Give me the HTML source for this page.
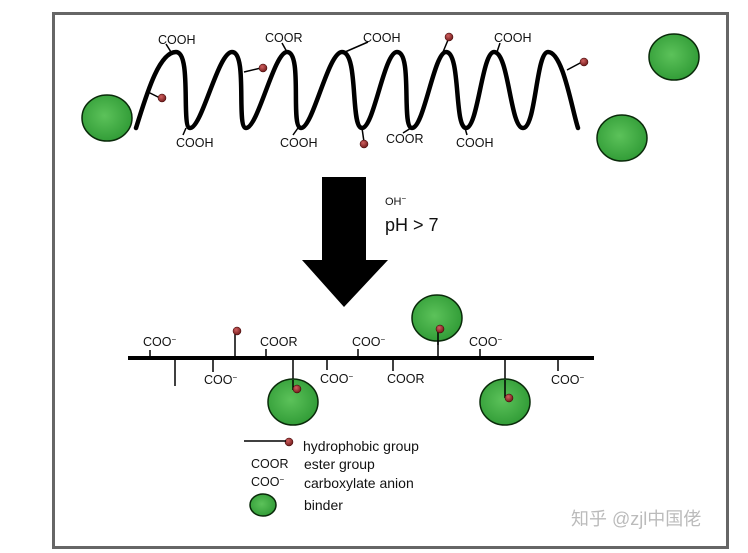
<!DOCTYPE html>
<html><head><meta charset="utf-8"><style>
html,body{margin:0;padding:0;background:#fff;width:748px;height:553px;overflow:hidden}
svg{display:block}
text{font-family:"Liberation Sans",sans-serif;fill:#111}
</style></head><body>
<svg width="748" height="553" viewBox="0 0 748 553">
<defs>
<radialGradient id="g" cx="0.45" cy="0.45" r="0.6"><stop offset="0" stop-color="#5cc25a"/><stop offset="1" stop-color="#2f9a35"/></radialGradient>
<radialGradient id="r" cx="0.4" cy="0.35" r="0.7"><stop offset="0" stop-color="#d06060"/><stop offset="1" stop-color="#6a1515"/></radialGradient>
</defs>
<rect x="53.5" y="13.5" width="674" height="534" fill="none" stroke="#666" stroke-width="3"/>
<!-- wave -->
<path d="M136,128 C145,100 158,52 176,52 C192,52 181,128 190,128 C202,128 218,52 232,52 C248,52 236,128 246,128 C258,128 274,52 287,52 C303,52 290,128 301,128 C313,128 328,52 342,52 C359,52 350,128 362,128 C374,128 384,52 397,52 C413,52 401,128 412,128 C424,128 434,52 446,52 C461,52 454,128 466,128 C478,128 482,52 494,52 C509,52 510,128 523,128 C536,128 536,52 548,52 C563,52 572,110 578,128" fill="none" stroke="#000" stroke-width="4.5" stroke-linecap="round"/>
<g stroke="#000" stroke-width="1.5">
<line x1="171" y1="52" x2="166" y2="44"/><line x1="287" y1="52" x2="282" y2="43"/><line x1="345" y1="52" x2="368" y2="42"/><line x1="443" y1="52" x2="448" y2="40"/><line x1="497" y1="52" x2="500" y2="43"/>
<line x1="186" y1="128" x2="183" y2="135"/><line x1="298" y1="128" x2="293" y2="135"/><line x1="362" y1="128" x2="364" y2="142"/><line x1="411" y1="128" x2="403" y2="133"/><line x1="465" y1="128" x2="467" y2="135"/>
<line x1="148" y1="92" x2="160" y2="98"/><line x1="244" y1="72" x2="261" y2="68"/><line x1="567" y1="70" x2="582" y2="62"/>
</g>
<g font-size="12.5">
<text x="158" y="44">COOH</text><text x="265" y="42">COOR</text><text x="363" y="42">COOH</text><text x="494" y="42">COOH</text>
<text x="176" y="147">COOH</text><text x="280" y="147">COOH</text><text x="386" y="143">COOR</text><text x="456" y="147">COOH</text>
</g>
<g fill="url(#r)" stroke="#300" stroke-width="0.5">
<circle cx="449" cy="37" r="4"/><circle cx="364" cy="144" r="4"/><circle cx="162" cy="98" r="4"/><circle cx="263" cy="68" r="4"/><circle cx="584" cy="62" r="4"/>
</g>
<g fill="url(#g)" stroke="#0a2a0a" stroke-width="1.5">
<ellipse cx="107" cy="118" rx="25" ry="23"/><ellipse cx="674" cy="57" rx="25" ry="23"/><ellipse cx="622" cy="138" rx="25" ry="23"/>
</g>
<!-- arrow -->
<polygon points="322,177 366,177 366,260 388,260 344,307 302,260 322,260" fill="#000"/>
<text x="385" y="205" font-size="11">OH<tspan font-size="8" dy="-4">−</tspan></text>
<text x="385" y="231" font-size="18">pH &gt; 7</text>
<!-- bottom chain -->
<line x1="128" y1="358" x2="594" y2="358" stroke="#000" stroke-width="4"/>
<g stroke="#000" stroke-width="1.5">
<line x1="150" y1="358" x2="150" y2="350"/><line x1="235" y1="358" x2="235" y2="332"/><line x1="266" y1="358" x2="266" y2="349"/><line x1="358" y1="358" x2="358" y2="349"/><line x1="438" y1="358" x2="438" y2="330"/><line x1="480" y1="358" x2="480" y2="349"/>
<line x1="175" y1="358" x2="175" y2="386"/><line x1="213" y1="358" x2="213" y2="372"/><line x1="293" y1="358" x2="293" y2="390"/><line x1="327" y1="358" x2="327" y2="370"/><line x1="393" y1="358" x2="393" y2="371"/><line x1="505" y1="358" x2="505" y2="388"/><line x1="558" y1="358" x2="558" y2="371"/>
</g>
<g fill="url(#g)" stroke="#0a2a0a" stroke-width="1.5">
<ellipse cx="437" cy="318" rx="25" ry="23"/><ellipse cx="293" cy="402" rx="25" ry="23"/><ellipse cx="505" cy="402" rx="25" ry="23"/>
<ellipse cx="263" cy="505" rx="13" ry="11"/>
</g>
<g stroke="#000" stroke-width="1.5"><line x1="438" y1="330" x2="438" y2="345"/><line x1="293" y1="380" x2="293" y2="390"/><line x1="505" y1="380" x2="505" y2="398"/></g>
<g fill="url(#r)" stroke="#300" stroke-width="0.5">
<circle cx="237" cy="331" r="4"/><circle cx="440" cy="329" r="4"/><circle cx="297" cy="389" r="4"/><circle cx="509" cy="398" r="4"/><circle cx="289" cy="442" r="4"/>
</g>
<g font-size="12.5">
<text x="143" y="346">COO<tspan font-size="8" dy="-4">−</tspan></text>
<text x="260" y="346">COOR</text>
<text x="352" y="346">COO<tspan font-size="8" dy="-4">−</tspan></text>
<text x="469" y="346">COO<tspan font-size="8" dy="-4">−</tspan></text>
<text x="204" y="384">COO<tspan font-size="8" dy="-4">−</tspan></text>
<text x="320" y="383">COO<tspan font-size="8" dy="-4">−</tspan></text>
<text x="387" y="383">COOR</text>
<text x="551" y="384">COO<tspan font-size="8" dy="-4">−</tspan></text>
</g>
<!-- legend -->
<line x1="244" y1="441" x2="286" y2="441" stroke="#000" stroke-width="1.5"/>
<g font-size="12.5"><text x="251" y="468">COOR</text><text x="251" y="486">COO<tspan font-size="8" dy="-4">−</tspan></text></g>
<g font-size="14"><text x="303" y="451">hydrophobic group</text><text x="304" y="469">ester group</text><text x="304" y="488">carboxylate anion</text><text x="304" y="510">binder</text></g>
<text x="571" y="525" font-size="18" style="fill:#bbb;font-family:'Liberation Sans','Noto Sans CJK SC',sans-serif">知乎 @zjl中国佬</text>
</svg>
</body></html>
